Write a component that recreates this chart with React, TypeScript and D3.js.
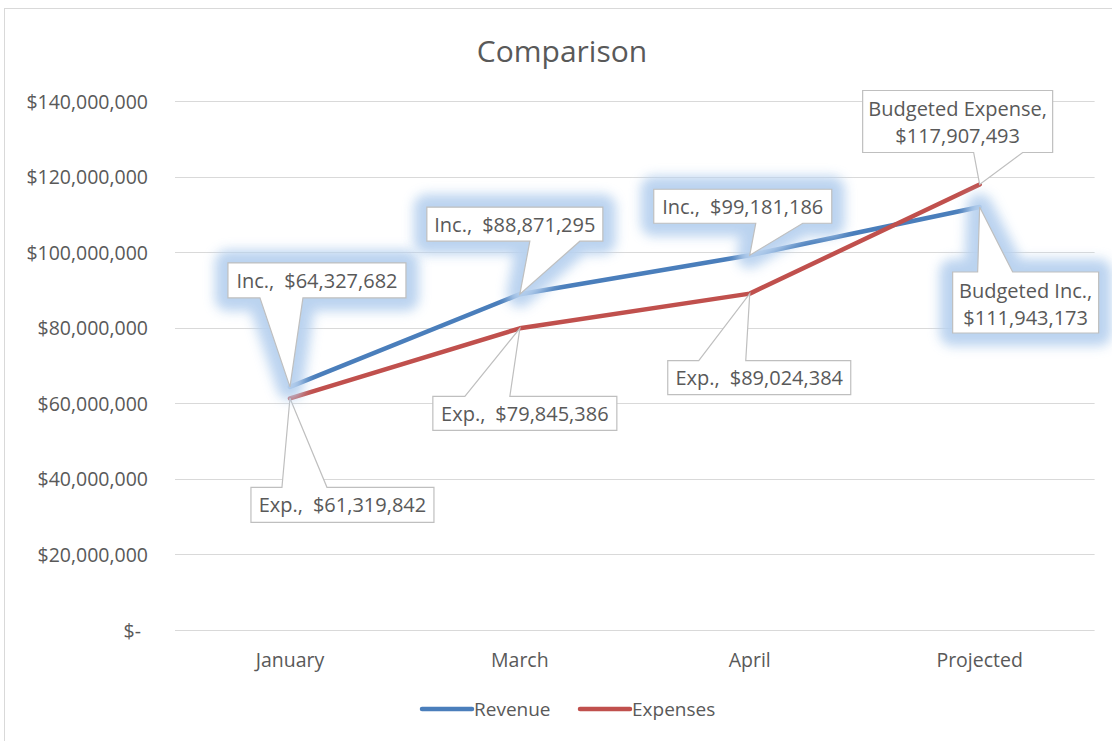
import React from "react";
import * as d3 from "d3";

// chart data
const categories = ["January", "March", "April", "Projected"];
const revenue = [64327682, 88871295, 99181186, 111943173];
const expenses = [61319842, 79845386, 89024384, 117907493];
const yTicks = [0, 20000000, 40000000, 60000000, 80000000, 100000000, 120000000, 140000000];
const revenueLabelNames = ["Inc.", "Inc.", "Inc.", "Budgeted Inc."];
const expenseLabelNames = ["Exp.", "Exp.", "Exp.", "Budgeted Expense"];

// callout placement relative to the data point (dx/dy = box top-left, b1/b2 = pointer base from box left)
const revenueCallouts = [
  { dx: -62, dy: -124, w: 178, h: 35, b1: 32, b2: 75, side: "bottom" },
  { dx: -93, dy: -87, w: 176, h: 34, b1: 103, b2: 153, side: "bottom" },
  { dx: -96, dy: -66, w: 178, h: 34, b1: 102, b2: 149, side: "bottom" },
  { dx: -27, dy: 65, w: 146, h: 61, b1: 25, b2: 60, side: "top" },
];
const expenseCallouts = [
  { dx: -39, dy: 89, w: 183, h: 35, b1: 31, b2: 76, side: "top" },
  { dx: -87, dy: 68, w: 184, h: 34, b1: 32, b2: 77, side: "top" },
  { dx: -82, dy: 67, w: 183, h: 34, b1: 31, b2: 78, side: "top" },
  { dx: -117, dy: -94, w: 190, h: 62, b1: 111, b2: 160, side: "bottom" },
];

const W = 1112;
const H = 741;
const FONT = "'Open Sans', 'Noto Sans', sans-serif";
const TEXT = "#595959";
const BLUE = "#4a7ebb";
const RED = "#c0504d";

const x = d3.scaleBand().domain(categories).range([175, 1094.6]);
const cx = (c: string) => (x(c) as number) + x.bandwidth() / 2;
const y = d3.scaleLinear().domain([0, 140000000]).range([630, 101]);
const money = d3.format("$,");

function calloutPath(tx: number, ty: number, c: any) {
  const x0 = tx + c.dx, y0 = ty + c.dy, x1 = x0 + c.w, y1 = y0 + c.h;
  const p1 = x0 + c.b1, p2 = x0 + c.b2;
  if (c.side === "bottom") {
    return `M${x0},${y0}H${x1}V${y1}H${p2}L${tx},${ty}L${p1},${y1}H${x0}Z`;
  }
  return `M${x0},${y0}H${p1}L${tx},${ty}L${p2},${y0}H${x1}V${y1}H${x0}Z`;
}

function Callout({ tx, ty, c, name, value, glow }: any) {
  const x0 = tx + c.dx, y0 = ty + c.dy;
  const d = calloutPath(tx, ty, c);
  const twoLine = name.startsWith("Budgeted");
  return (
    <g>
      {glow && (
        <path d={d} fill="#b8d1ef" stroke="#b8d1ef" strokeWidth={26} strokeLinejoin="round"
          opacity={0.95} filter="url(#glow)" />
      )}
      <path d={d} fill="#fff" stroke="#bfbfbf" strokeWidth={1.2} />
      {twoLine ? (
        <text x={x0 + c.w / 2} textAnchor="middle" fill={TEXT} fontSize={20} fontFamily={FONT}>
          <tspan x={x0 + c.w / 2} y={y0 + 18} dominantBaseline="central">{name + ","}</tspan>
          <tspan x={x0 + c.w / 2} y={y0 + 45} dominantBaseline="central">{money(value)}</tspan>
        </text>
      ) : (
        <text x={x0 + c.w / 2} y={y0 + c.h / 2} textAnchor="middle" dominantBaseline="central"
          fill={TEXT} fontSize={20} fontFamily={FONT} style={{ whiteSpace: "pre" }}>
          {name + ",\u2002" + money(value)}
        </text>
      )}
    </g>
  );
}

export default function App() {
  const line = d3.line<number>().x((_, i) => cx(categories[i])).y((v) => y(v));

  return (
    <div style={{ position: "absolute", left: 0, top: 0 }}>
      <svg width={W} height={H} style={{ display: "block", background: "#fff" }}>
        <defs>
          <filter id="glow" x="-50%" y="-50%" width="200%" height="200%">
            <feGaussianBlur stdDeviation={6} />
          </filter>
        </defs>
        <rect x={4.5} y={8.5} width={1200} height={900} fill="#fff" stroke="#d9d9d9" />

        <text x={562} y={50} textAnchor="middle" dominantBaseline="central" fill={TEXT}
          fontSize={30} fontFamily={FONT}>Comparison</text>

        {yTicks.map((t) => (
          <g key={t}>
            <line x1={175} x2={1094.6} y1={Math.round(y(t)) + 0.5} y2={Math.round(y(t)) + 0.5}
              stroke="#d9d9d9" strokeWidth={1} />
            <text x={t === 0 ? 141 : 148} y={y(t)} textAnchor="end" dominantBaseline="central"
              fill={TEXT} fontSize={19.5} fontFamily={FONT}>
              {t === 0 ? "$-" : money(t)}
            </text>
          </g>
        ))}

        {categories.map((c) => (
          <text key={c} x={cx(c)} y={659} textAnchor="middle" dominantBaseline="central"
            fill={TEXT} fontSize={19.5} fontFamily={FONT}>{c}</text>
        ))}

        <path d={line(revenue) ?? ""} fill="none" stroke={BLUE} strokeWidth={4.5}
          strokeLinecap="round" strokeLinejoin="round" />
        <path d={line(expenses) ?? ""} fill="none" stroke={RED} strokeWidth={4.5}
          strokeLinecap="round" strokeLinejoin="round" />

        {expenses.map((v, i) => (
          <Callout key={"e" + i} tx={cx(categories[i])} ty={y(v)} c={expenseCallouts[i]}
            name={expenseLabelNames[i]} value={v} glow={false} />
        ))}
        {revenue.map((v, i) => (
          <Callout key={"r" + i} tx={cx(categories[i])} ty={y(v)} c={revenueCallouts[i]}
            name={revenueLabelNames[i]} value={v} glow={true} />
        ))}

        <g fontFamily={FONT} fontSize={19} fill={TEXT}>
          <line x1={422} x2={472} y1={709} y2={709} stroke={BLUE} strokeWidth={4.5} strokeLinecap="round" />
          <text x={474} y={709} dominantBaseline="central">Revenue</text>
          <line x1={580} x2={630} y1={709} y2={709} stroke={RED} strokeWidth={4.5} strokeLinecap="round" />
          <text x={632} y={709} dominantBaseline="central">Expenses</text>
        </g>
      </svg>
    </div>
  );
}
